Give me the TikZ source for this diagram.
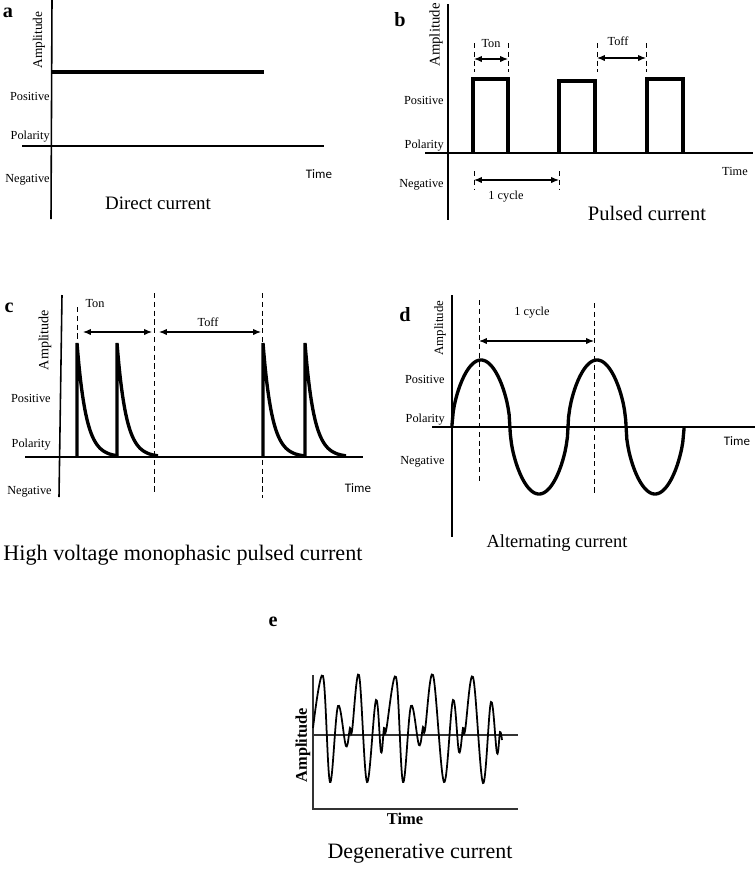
\documentclass[tikz,border=0pt]{standalone}
\usepackage{fontspec}
\setmainfont{Liberation Serif}
\newfontfamily\calibrifont{Carlito}
\usetikzlibrary{arrows.meta}
\newcommand{\TickLbl}{\fontsize{7}{8}\selectfont}
\newcommand{\AmpLbl}{\fontsize{7.6}{8}\selectfont}
\newcommand{\PanelLbl}{\fontsize{11.5}{12}\selectfont\bfseries}
\newcommand{\TimeLbl}{\calibrifont\fontsize{7.4}{8}\selectfont}
\newcommand{\CapLbl}[1]{\fontsize{#1}{#1}\selectfont}
\tikzset{
  axisline/.style={line width=0.9pt},
  waveline/.style={line width=1.9pt, line join=miter},
  guideline/.style={line width=0.55pt, dash pattern=on 3pt off 2pt},
  spanarrow/.style={{Latex[length=4.5pt,width=3.6pt]}-{Latex[length=4.5pt,width=3.6pt]}, line width=0.6pt},
  ylbl/.style={anchor=east, inner sep=0pt, font=\TickLbl},
  amplbl/.style={rotate=90, inner sep=0pt, font=\AmpLbl},
}
\begin{document}
\begin{tikzpicture}[x=0.02cm, y=-0.02cm]
\useasboundingbox (0,0) rectangle (756,870);

% a: direct current
\node[font=\PanelLbl] (lblA) at (8,13) {a};
\draw[axisline] (52,0) -- (51,219);
\draw[axisline] (22,146) -- (324,146);
\draw[waveline] (52,72) -- (264,72);
\node[amplbl] (ampA) at (39,40) {Amplitude};
\node[ylbl] (posA) at (50,96) {Positive};
\node[ylbl] (polA) at (50,137) {Polarity};
\node[ylbl] (negA) at (50,180) {Negative};
\node[font=\TimeLbl] (timeA) at (319,174) {Time};
\node[font=\CapLbl{10.8}] (capA) at (158,203) {Direct current};

% b: pulsed current
\node[font=\PanelLbl] (lblB) at (400,20) {b};
\draw[axisline] (448,4) -- (448,220);
\draw[axisline] (425,153) -- (753,153);
\draw[waveline] (473,153) -- (473,79) -- (508,79) -- (508,153);
\draw[waveline] (559,153) -- (559,81) -- (595,81) -- (595,153);
\draw[waveline] (647,153) -- (647,79) -- (683,79) -- (683,153);
\draw[guideline] (474,43) -- (474,72) (508,43) -- (508,72);
\draw[guideline] (597,43) -- (597,72) (646,43) -- (646,72);
\draw[guideline] (474,171) -- (474,190) (559,171) -- (559,190);
\coordinate (tonBl) at (474,59);
\coordinate (tonBr) at (508,59);
\coordinate (toffBl) at (597,58);
\coordinate (toffBr) at (646,58);
\coordinate (cycBl) at (474,180);
\coordinate (cycBr) at (559,180);
\draw[spanarrow] (tonBl) -- (tonBr);
\draw[spanarrow] (toffBl) -- (toffBr);
\draw[spanarrow] (cycBl) -- (cycBr);
\node[font=\TickLbl] (tonB) at (491,44) {Ton};
\node[font=\TickLbl] (toffB) at (618,41) {Toff};
\node[font=\TickLbl] (cycB) at (506,197) {1 cycle};
\node[amplbl, font=\fontsize{8.4}{9}\selectfont] (ampB) at (436,35) {Amplitude};
\node[ylbl] (posB) at (444,100) {Positive};
\node[ylbl] (polB) at (444,146) {Polarity};
\node[ylbl] (negB) at (444,185) {Negative};
\node[font=\TickLbl] (timeB) at (735,171) {Time};
\node[font=\CapLbl{11.7}] (capB) at (647,213) {Pulsed current};

% c: high voltage monophasic pulsed current
\node[font=\PanelLbl] (lblC) at (9,308) {c};
\draw[axisline] (62,295) -- (59,497);
\draw[axisline] (25,457) -- (363,457);
\foreach \sx in {77,117,263,305}
  \draw[waveline] (\sx,457) -- (\sx,343) -- plot[domain=0:41, samples=45] ({\sx+\x}, {457-114*exp(-\x/9)});
\draw[guideline] (77,307) -- (77,342);
\draw[guideline] (154,293) -- (154,493);
\draw[guideline] (262,293) -- (262,498);
\coordinate (tonCl) at (83,332);
\coordinate (tonCr) at (152,332);
\coordinate (toffCl) at (159,332);
\coordinate (toffCr) at (261,332);
\draw[spanarrow] (tonCl) -- (tonCr);
\draw[spanarrow] (toffCl) -- (toffCr);
\node[font=\TickLbl] (tonC) at (95,304) {Ton};
\node[font=\TickLbl] (toffC) at (208,322) {Toff};
\node[amplbl, font=\fontsize{8}{9}\selectfont] (ampC) at (45,340) {Amplitude};
\node[ylbl] (posC) at (51,398) {Positive};
\node[ylbl] (polC) at (51,445) {Polarity};
\node[ylbl] (negC) at (52,492) {Negative};
\node[font=\TimeLbl] (timeC) at (358,488) {Time};
\node[font=\CapLbl{12.6}] (capC) at (183,555) {High voltage monophasic pulsed current};

% d: alternating current
\node[font=\PanelLbl] (lblD) at (405,315) {d};
\draw[axisline] (452,295) -- (452,537);
\draw[axisline] (432,427) -- (755,427);
\draw[waveline] (452,427) -- plot[domain=0.05:231.95, samples=200]
  ({452+\x}, {427-67*sign(sin(\x/116*360))*pow(abs(sin(\x/116*360))+0.00001,0.55)}) -- (684,427);
\draw[guideline] (479,300) -- (479,482);
\draw[guideline] (594,303) -- (594,493);
\coordinate (cycDl) at (479,341);
\coordinate (cycDr) at (594,341);
\draw[spanarrow] (cycDl) -- (cycDr);
\node[font=\TickLbl] (cycD) at (532,313) {1 cycle};
\node[amplbl, font=\fontsize{7.3}{8}\selectfont] (ampD) at (440,328) {Amplitude};
\node[ylbl] (posD) at (445,379) {Positive};
\node[ylbl] (polD) at (445,420) {Polarity};
\node[ylbl] (negD) at (445,462) {Negative};
\node[font=\TimeLbl] (timeD) at (737,441) {Time};
\node[font=\CapLbl{10.5}] (capD) at (557,543) {Alternating current};

% e: degenerative current
\node[font=\PanelLbl] (lblE) at (273,622) {e};
\draw[axisline, black!80] (313,675) -- (313,809) -- (518,809);
\draw[axisline, black!80] (313,735) -- (518,735);
\draw[line width=1pt] plot[smooth, tension=0.6] coordinates {
  (313,728) (323,676) (330,782) (338,706) (346,746) (350,728) (352,731)
  (359,675) (367,782) (376,700) (381,752) (384,728) (386,731)
  (396,677) (403,782) (411,706) (419,745) (423,727) (425,730)
  (433,675) (444,782) (453,700) (459,752) (463,728) (465,731)
  (473,677) (483,783) (491,702) (497,753) (500,732) (502,740)};
\node[amplbl, font=\fontsize{9.3}{10}\selectfont\bfseries] (ampE) at (303,745) {Amplitude};
\node[font=\fontsize{9.4}{10}\selectfont\bfseries] (timeE) at (405,819) {Time};
\node[font=\CapLbl{12.5}] (capE) at (420,854) {Degenerative current};
\end{tikzpicture}
\end{document}
